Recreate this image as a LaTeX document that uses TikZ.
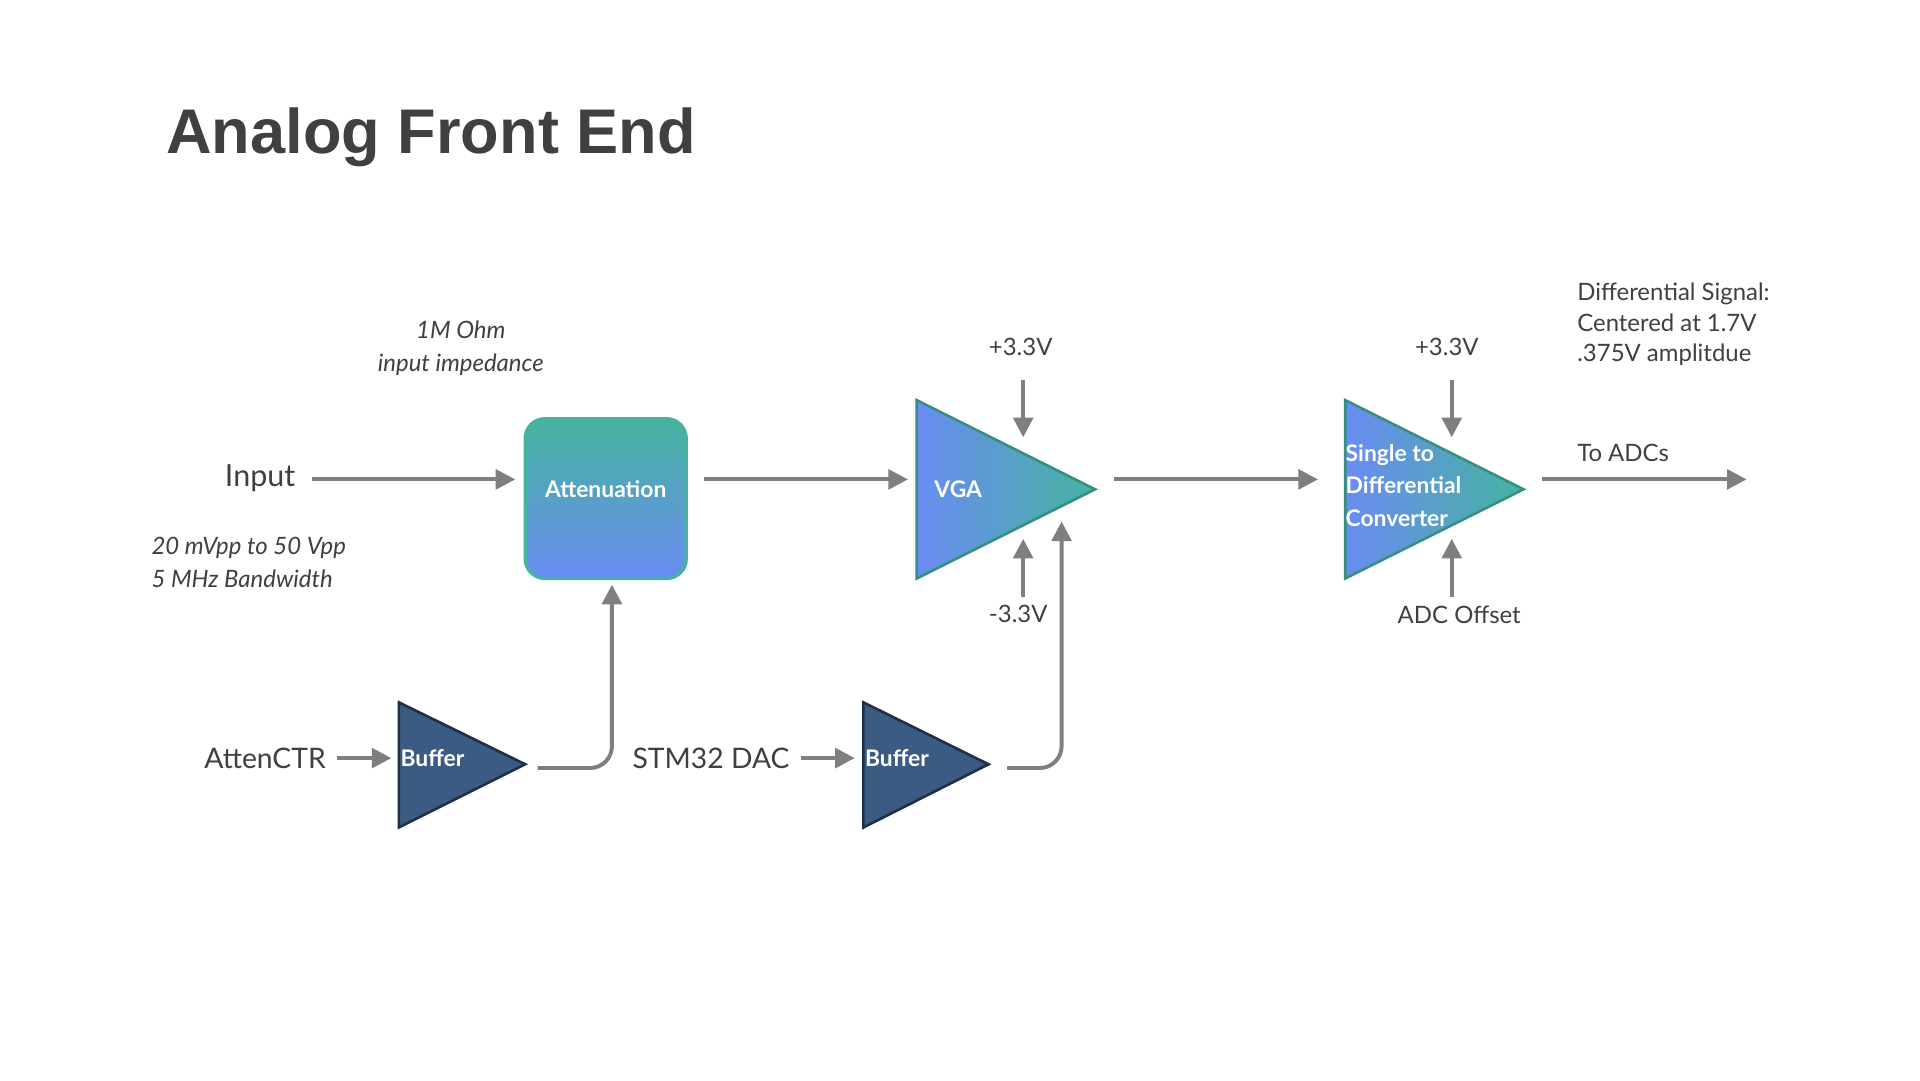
\documentclass[tikz,border=0pt]{standalone}
\usepackage{fontspec}
\setmainfont{Lato}
\newfontfamily\titlefont{Liberation Sans}
\usetikzlibrary{arrows.meta}
\definecolor{arr}{HTML}{7F7F7F}
\definecolor{tealc}{HTML}{45B39F}
\definecolor{bluec}{HTML}{6A8CF2}
\definecolor{navy}{HTML}{3C5B82}
\definecolor{navyd}{HTML}{1F2F48}
\definecolor{txt}{HTML}{404040}
\tikzset{
  conn/.style={draw=arr,line width=1.8pt,-{Triangle[length=9pt,width=9pt]}},
  lbl/.style={font=\fontsize{11}{13}\selectfont,text=txt,inner sep=0pt},
  ilbl/.style={font=\fontsize{11}{13}\selectfont\itshape,text=txt,inner sep=0pt},
  wlbl/.style={font=\fontsize{10.5}{15}\selectfont\bfseries,text=white,inner sep=0pt},
}
\begin{document}
\begin{tikzpicture}[x=0.02cm,y=-0.02cm]
\useasboundingbox[fill=white] (0,0) rectangle (1550,872);
\node[anchor=base west,font=\titlefont\bfseries\fontsize{29}{34}\selectfont,text=txt,inner sep=0pt] (title) at (134,124) {Analog Front End};
% attenuation
\shade[top color=tealc,bottom color=bluec,draw=tealc,line width=1.5pt,rounded corners=9pt] (424,338) rectangle (554,467);
\node[wlbl] (att) at (489,395) {Attenuation};
\coordinate (attL) at (424,387); \coordinate (attR) at (554,387); \coordinate (attB) at (494,467);
% VGA
\shade[left color=bluec,right color=tealc,draw=tealc!80!black,line width=1.2pt] (740,323) -- (884,395) -- (740,467) -- cycle;
\node[wlbl,anchor=west] (vga) at (754,395) {VGA};
\coordinate (vgaL) at (740,387); \coordinate (vgaR) at (884,387);
% S2D
\shade[left color=bluec,right color=tealc,draw=tealc!80!black,line width=1.2pt] (1086,323) -- (1230,395) -- (1086,467) -- cycle;
\node[wlbl,anchor=west,align=left] (sd) at (1086,392) {Single to\\Differential\\Converter};
\coordinate (sdL) at (1086,387); \coordinate (sdR) at (1230,387);
% buffers
\draw[fill=navy,draw=navyd,line width=1.2pt] (322,567) -- (424,617) -- (322,668) -- cycle;
\node[wlbl,anchor=west] (b1) at (323,612) {Buffer};
\draw[fill=navy,draw=navyd,line width=1.2pt] (697,567) -- (798,617) -- (697,668) -- cycle;
\node[wlbl,anchor=west] (b2) at (698,612) {Buffer};
\coordinate (b1L) at (316,612); \coordinate (b1R) at (434,620);
\coordinate (b2L) at (690,612); \coordinate (b2R) at (813,620);
% labels
\node[font=\fontsize{14}{16}\selectfont,text=txt,inner sep=0pt] (inp) at (210,386) {Input};
\node[ilbl,align=center] (imp) at (372,281) {1M Ohm\\[2pt]input impedance};
\node[ilbl,align=left,anchor=west] (rng) at (122,454) {20 mVpp to 50 Vpp\\[2pt]5 MHz Bandwidth};
\node[lbl,align=left,anchor=west] (diff) at (1273,262) {Differential Signal:\\[1pt]Centered at 1.7V\\[1pt].375V amplitdue};
\node[lbl,anchor=west] (adc) at (1273,366) {To ADCs};
\node[lbl] (p1) at (824,280) {+3.3V};
\node[lbl] (m1) at (822,496) {-3.3V};
\node[lbl] (p2) at (1168,280) {+3.3V};
\node[lbl] (off) at (1178,496) {ADC Offset};
\node[font=\fontsize{13}{15}\selectfont,text=txt,inner sep=0pt] (actr) at (214,612) {AttenCTR};
\node[font=\fontsize{13}{15}\selectfont,text=txt,inner sep=0pt] (dac) at (574,612) {STM32 DAC};
\coordinate (out) at (1410,387);
% connectors
\draw[conn] (252,387) -- (416,387);
\draw[conn] (568,387) -- (733,387);
\draw[conn] (899,387) -- (1064,387);
\draw[conn] (1245,387) -- (out);
\draw[conn] (826,307) -- (826,353);
\draw[conn] (826,482) -- (826,435);
\draw[conn] (1172,307) -- (1172,353);
\draw[conn] (1172,482) -- (1172,435);
\draw[conn] (272,612) -- (b1L);
\draw[conn] (647,612) -- (b2L);
\draw[conn,rounded corners=10pt] (b1R) -- (494,620) -- (494,472);
\draw[conn,rounded corners=10pt] (b2R) -- (857,620) -- (857,421);
\end{tikzpicture}
\end{document}
